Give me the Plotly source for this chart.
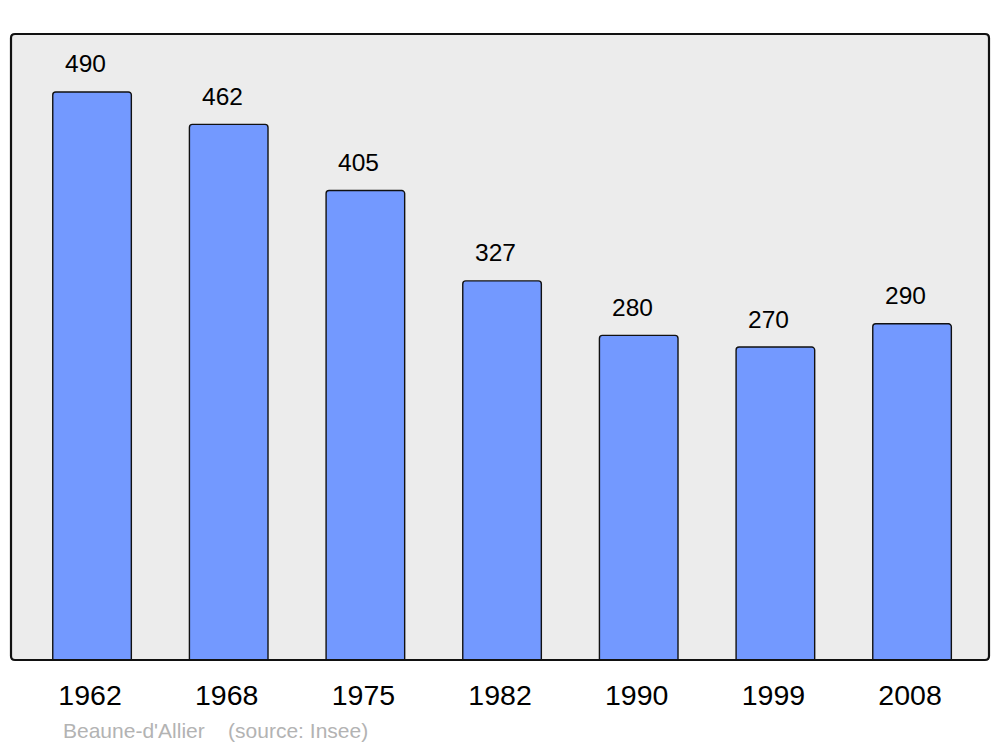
import plotly.graph_objects as go

years = ["1962", "1968", "1975", "1982", "1990", "1999", "2008"]
population = [490, 462, 405, 327, 280, 270, 290]
caption = "Beaune-d'Allier&nbsp;&nbsp;&nbsp;&nbsp;(source: Insee)"

xs = list(range(len(years)))
FONT = "Liberation Sans, Arial, sans-serif"

fig = go.Figure()
fig.add_trace(go.Bar(
    x=xs, y=population, width=0.575,
    marker=dict(color="#7399ff", line=dict(color="#111111", width=1.4), cornerradius=3),
    hoverinfo="skip",
))

for x, v in zip(xs, population):
    fig.add_annotation(x=x, y=v, text=str(v), showarrow=False, yanchor="middle",
                       yshift=28, xshift=-6.5, font=dict(size=24.5, color="#000000", family=FONT))

fig.add_annotation(xref="paper", yref="paper", x=(61 - 11) / 978, y=-(730 - 660) / 626,
                   text=caption, showarrow=False, xanchor="left", yanchor="middle",
                   font=dict(size=21, color="#b3b3b3", family=FONT))

# rounded border
rx, ry = 4 / 978, 4 / 626
path = (f"M {rx},0 L {1-rx},0 Q 1,0 1,{ry} L 1,{1-ry} Q 1,1 {1-rx},1 "
        f"L {rx},1 Q 0,1 0,{1-ry} L 0,{ry} Q 0,0 {rx},0 Z")
fig.add_shape(type="path", xref="paper", yref="paper", path=path,
              line=dict(color="#111111", width=2.2), layer="above")

fig.update_layout(
    width=1000, height=747,
    margin=dict(l=11, r=11, t=34, b=87),
    paper_bgcolor="#ffffff", plot_bgcolor="#ececec",
    showlegend=False,
    font=dict(family=FONT, color="#000000"),
    xaxis=dict(range=[-0.593, 6.563], tickvals=xs, ticktext=years, tickfont=dict(size=28.5),
               ticks="", ticklabelstandoff=15, ticklabelshift=-2, showgrid=False,
               zeroline=False, showline=False, fixedrange=True),
    yaxis=dict(range=[0, 540], showticklabels=False, showgrid=False, zeroline=False,
               showline=False, ticks="", fixedrange=True),
)

fig.write_html("out.html", config={"displayModeBar": False},
               post_script="document.body.style.margin='0';document.body.style.overflow='hidden';")
